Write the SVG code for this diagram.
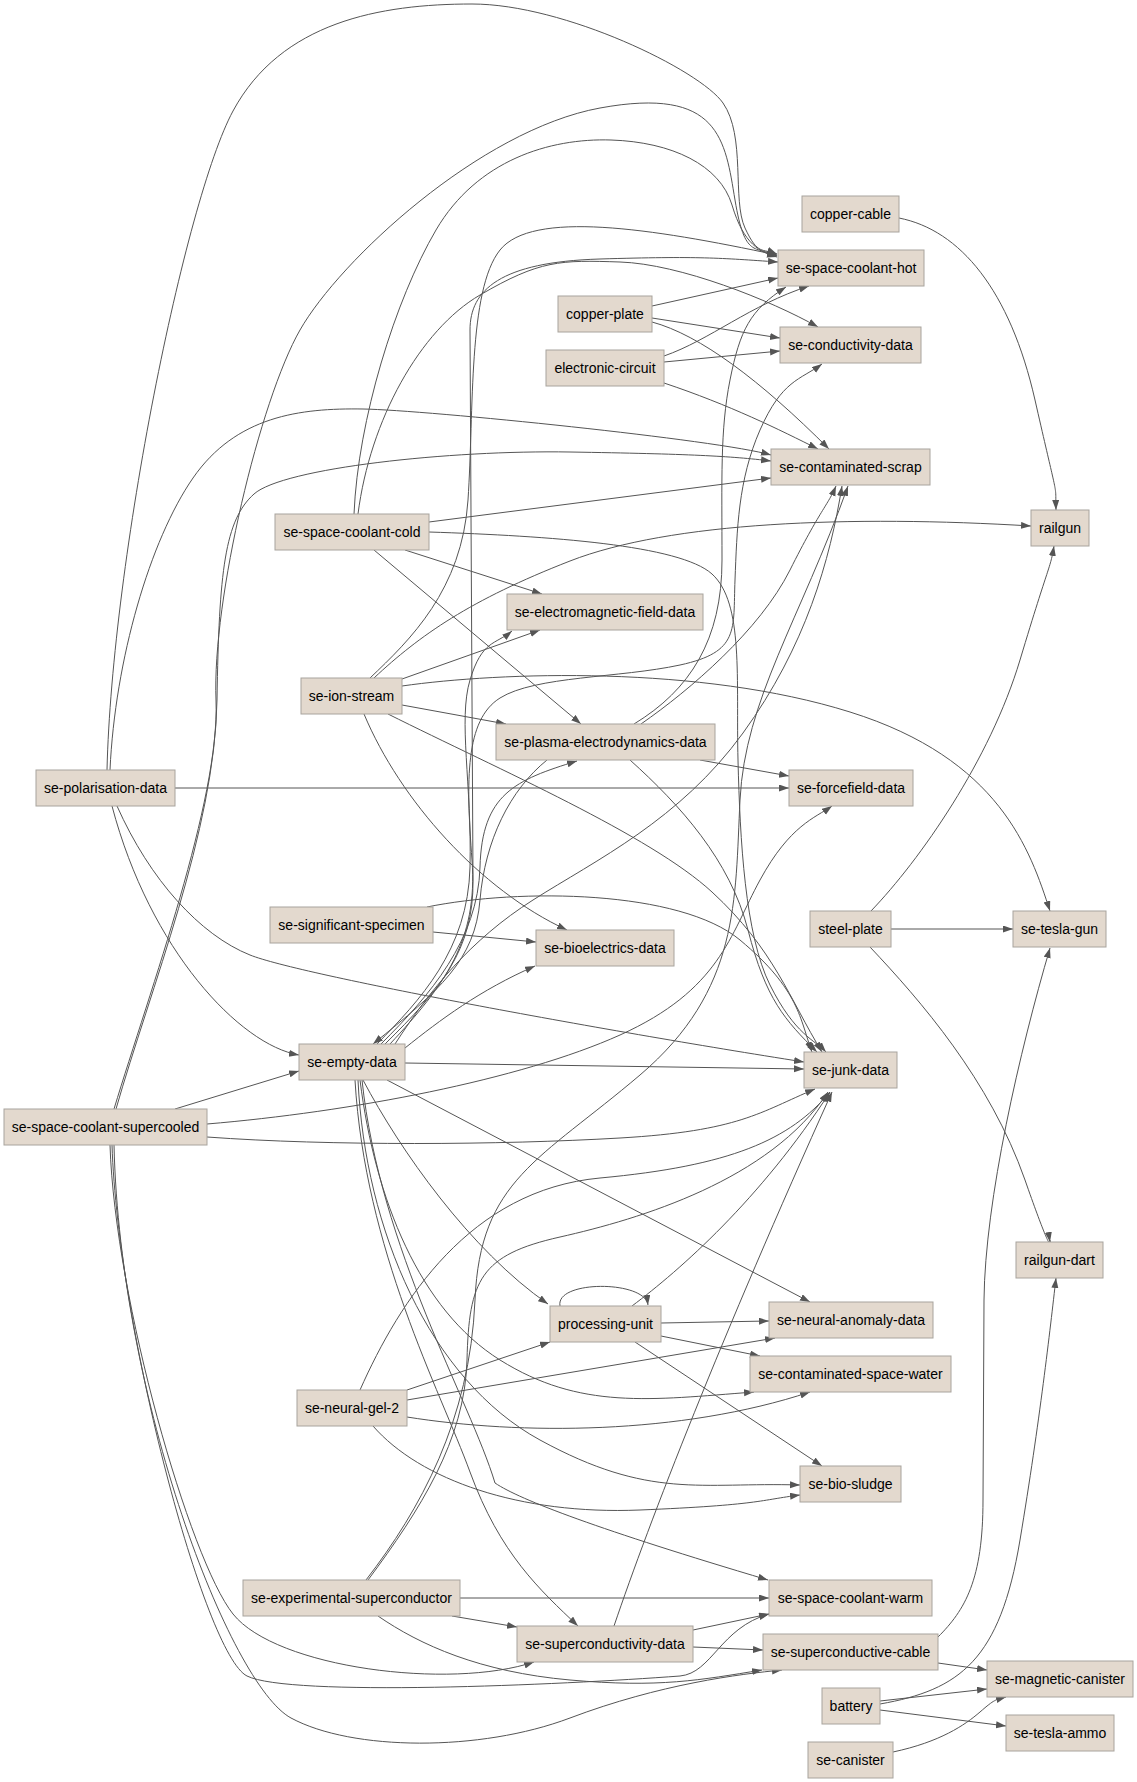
<svg xmlns="http://www.w3.org/2000/svg" width="1137" height="1782" viewBox="0 0 1137 1782">
<defs>
<marker id="ah" markerUnits="userSpaceOnUse" markerWidth="10" markerHeight="8" refX="10" refY="3.5" orient="auto"><path d="M0,0 L10,3.5 L0,7 z" fill="#555"/></marker>
<style>
.n rect{fill:#e3d9ce;stroke:#a8a39d;stroke-width:1}
.n text{font-family:"Liberation Sans",Arial,sans-serif;font-size:14px;fill:#000;text-anchor:middle}
#edges path{fill:none;stroke:#555;stroke-width:1;marker-end:url(#ah)}
</style>
</defs>
<rect x="0" y="0" width="1137" height="1782" fill="#fff"/>
<g id="edges">
<path d="M107,770 C112,560 185,200 233,111 S380,4 472,4 S700,70 723,103 S732,200 745,228 S762,248 777,254"/>
<path d="M110,770 C115,660 150,540 193,478 S300,408 363,409 S720,440 771,455"/>
<path d="M175,788 L789,788"/>
<path d="M112,806 C150,950 240,1045 299,1055"/>
<path d="M117,806 C150,880 200,935 250,955 S600,1030 804,1062"/>
<path d="M114,1109 C150,990 220,800 216,700 S260,400 300,330 S480,130 600,108 S725,140 735,200 S755,245 777,256"/>
<path d="M116,1109 C150,990 215,830 217,700 S225,520 254,494 S450,450 570,452 S730,456 771,461"/>
<path d="M175,1109 L299,1071"/>
<path d="M207,1124 C350,1112 520,1080 620,1035 S730,935 760,880 S815,818 832,806"/>
<path d="M207,1137 C330,1146 500,1145 620,1138 S760,1112 815,1089"/>
<path d="M110,1145 C115,1300 190,1560 233,1614 S450,1690 534,1662"/>
<path d="M112,1145 C118,1330 205,1655 247,1676 S560,1685 680,1676 C712,1673 720,1628 769,1614"/>
<path d="M114,1145 C120,1400 230,1685 291,1718 S480,1752 570,1718 S740,1674 782,1670"/>
<path d="M354,514 C358,420 395,300 436,230 S550,138 611,140 S720,165 732,205 S760,252 777,257"/>
<path d="M358,514 C370,420 420,330 480,295 S560,260 620,262 S770,300 818,327"/>
<path d="M429,522 L771,478"/>
<path d="M405,550 L542,594"/>
<path d="M374,550 L581,724"/>
<path d="M429,532 C550,536 680,545 712,574 S736,680 738,760 S745,935 770,985 S815,1040 826,1052"/>
<path d="M370,678 C410,640 462,590 468,500 S468,290 500,250 S650,228 777,255"/>
<path d="M374,678 C420,635 470,600 570,561 S850,515 1031,526"/>
<path d="M402,679 L540,630"/>
<path d="M402,686 C500,672 700,665 850,712 S1030,850 1050,911"/>
<path d="M402,705 L506,724"/>
<path d="M364,714 C400,800 480,890 567,930"/>
<path d="M388,714 C500,770 650,835 712,892 S790,1000 822,1052"/>
<path d="M899,218 C960,230 1010,290 1035,400 S1055,480 1056,510"/>
<path d="M652,306 L778,278"/>
<path d="M652,318 L780,338"/>
<path d="M652,322 C700,335 760,380 829,449"/>
<path d="M664,356 C710,340 750,305 809,286"/>
<path d="M664,362 L780,351"/>
<path d="M664,383 C730,405 780,430 818,449"/>
<path d="M700,760 L789,776"/>
<path d="M641,724 C690,690 760,630 790,570 S828,505 836,486"/>
<path d="M634,724 C690,690 722,640 722,560 S720,430 730,380 S750,310 786,287"/>
<path d="M630,760 C680,805 730,860 748,930 S785,1020 817,1052"/>
<path d="M547,760 C510,790 485,840 480,900 S440,990 373,1044"/>
<path d="M433,932 L536,942"/>
<path d="M427,907 C520,888 680,890 740,940 S800,1020 812,1052"/>
<path d="M405,1063 L804,1069"/>
<path d="M377,1044 C420,1000 468,950 470,867 S458,720 470,680 S495,645 512,631"/>
<path d="M381,1044 C430,995 478,940 480,867 S515,780 577,761"/>
<path d="M405,1048 C440,1020 480,990 535,966"/>
<path d="M385,1044 C440,990 474,950 473,880 L470,330 C470,290 500,262 600,259 S720,258 778,262"/>
<path d="M390,1044 C445,985 478,940 472,860 S465,720 500,698 S620,678 680,665 S733,630 735,580 S738,480 760,430 S800,380 822,364"/>
<path d="M395,1044 C430,990 470,940 533,900 S680,820 743,733 S830,560 842,486"/>
<path d="M387,1080 L810,1302"/>
<path d="M363,1080 C400,1150 470,1250 548,1304"/>
<path d="M360,1080 C375,1200 420,1310 500,1360 S650,1400 754,1392"/>
<path d="M358,1080 C365,1230 430,1380 540,1440 S700,1482 800,1485"/>
<path d="M362,1080 C380,1250 470,1400 495,1483 C520,1500 600,1530 768,1580"/>
<path d="M355,1080 C365,1250 440,1390 470,1472 S540,1590 578,1626"/>
<path d="M407,1390 L550,1342"/>
<path d="M407,1400 L775,1338"/>
<path d="M407,1417 C520,1435 680,1435 810,1392"/>
<path d="M373,1426 C420,1480 520,1515 640,1510 S760,1500 800,1495"/>
<path d="M360,1390 C400,1300 470,1190 600,1178 S790,1140 830,1092"/>
<path d="M560,1306 C555,1280 645,1280 648,1305"/>
<path d="M632,1306 C680,1270 760,1200 830,1092"/>
<path d="M661,1323 L769,1321"/>
<path d="M661,1336 L760,1356"/>
<path d="M635,1342 L822,1466"/>
<path d="M460,1598 L769,1598"/>
<path d="M452,1616 L517,1627"/>
<path d="M368,1580 C420,1510 465,1440 467,1360 S480,1255 560,1237 S770,1180 828,1092"/>
<path d="M366,1580 C420,1510 470,1420 475,1300 S540,1160 640,1075 S735,900 740,800 S800,620 848,486"/>
<path d="M378,1616 C420,1645 480,1672 570,1680 S700,1680 762,1670"/>
<path d="M693,1630 L769,1614"/>
<path d="M693,1647 L763,1650"/>
<path d="M614,1626 C650,1520 720,1340 832,1092"/>
<path d="M938,1663 L987,1670"/>
<path d="M938,1637 C965,1610 983,1580 983,1500 L984,1300 C985,1200 1020,1050 1050,948"/>
<path d="M880,1701 L987,1689"/>
<path d="M880,1710 L1006,1726"/>
<path d="M880,1704 C960,1690 1000,1660 1020,1540 S1050,1330 1056,1278"/>
<path d="M893,1752 C940,1742 965,1725 980,1712 S995,1700 1006,1697"/>
<path d="M891,929 L1013,929"/>
<path d="M871,911 C920,860 990,760 1020,660 S1050,570 1054,546"/>
<path d="M870,947 C920,1000 990,1080 1025,1180 S1048,1230 1050,1242"/>
</g>
<g id="n-copper-cable" class="n"><rect x="802" y="196" width="97" height="36"/><text x="850.5" y="219">copper-cable</text></g>
<g id="n-se-space-coolant-hot" class="n"><rect x="778" y="250" width="146" height="36"/><text x="851" y="273">se-space-coolant-hot</text></g>
<g id="n-copper-plate" class="n"><rect x="558" y="296" width="94" height="36"/><text x="605" y="319">copper-plate</text></g>
<g id="n-se-conductivity-data" class="n"><rect x="780" y="327" width="141" height="36"/><text x="850.5" y="350">se-conductivity-data</text></g>
<g id="n-electronic-circuit" class="n"><rect x="546" y="350" width="118" height="36"/><text x="605" y="373">electronic-circuit</text></g>
<g id="n-se-contaminated-scrap" class="n"><rect x="771" y="449" width="159" height="36"/><text x="850.5" y="472">se-contaminated-scrap</text></g>
<g id="n-se-space-coolant-cold" class="n"><rect x="275" y="514" width="154" height="36"/><text x="352" y="537">se-space-coolant-cold</text></g>
<g id="n-railgun" class="n"><rect x="1031" y="510" width="58" height="36"/><text x="1060" y="533">railgun</text></g>
<g id="n-se-electromagnetic-field-data" class="n"><rect x="507" y="594" width="196" height="36"/><text x="605" y="617">se-electromagnetic-field-data</text></g>
<g id="n-se-ion-stream" class="n"><rect x="301" y="678" width="101" height="36"/><text x="351.5" y="701">se-ion-stream</text></g>
<g id="n-se-plasma-electrodynamics-data" class="n"><rect x="496" y="724" width="219" height="36"/><text x="605.5" y="747">se-plasma-electrodynamics-data</text></g>
<g id="n-se-polarisation-data" class="n"><rect x="36" y="770" width="139" height="36"/><text x="105.5" y="793">se-polarisation-data</text></g>
<g id="n-se-forcefield-data" class="n"><rect x="789" y="770" width="124" height="36"/><text x="851" y="793">se-forcefield-data</text></g>
<g id="n-se-significant-specimen" class="n"><rect x="270" y="907" width="163" height="36"/><text x="351.5" y="930">se-significant-specimen</text></g>
<g id="n-steel-plate" class="n"><rect x="810" y="911" width="81" height="36"/><text x="850.5" y="934">steel-plate</text></g>
<g id="n-se-tesla-gun" class="n"><rect x="1013" y="911" width="93" height="36"/><text x="1059.5" y="934">se-tesla-gun</text></g>
<g id="n-se-bioelectrics-data" class="n"><rect x="536" y="930" width="138" height="36"/><text x="605" y="953">se-bioelectrics-data</text></g>
<g id="n-se-empty-data" class="n"><rect x="299" y="1044" width="106" height="36"/><text x="352" y="1067">se-empty-data</text></g>
<g id="n-se-junk-data" class="n"><rect x="804" y="1052" width="93" height="36"/><text x="850.5" y="1075">se-junk-data</text></g>
<g id="n-se-space-coolant-supercooled" class="n"><rect x="4" y="1109" width="203" height="36"/><text x="105.5" y="1132">se-space-coolant-supercooled</text></g>
<g id="n-railgun-dart" class="n"><rect x="1016" y="1242" width="87" height="36"/><text x="1059.5" y="1265">railgun-dart</text></g>
<g id="n-processing-unit" class="n"><rect x="550" y="1306" width="111" height="36"/><text x="605.5" y="1329">processing-unit</text></g>
<g id="n-se-neural-anomaly-data" class="n"><rect x="769" y="1302" width="164" height="36"/><text x="851" y="1325">se-neural-anomaly-data</text></g>
<g id="n-se-contaminated-space-water" class="n"><rect x="750" y="1356" width="201" height="36"/><text x="850.5" y="1379">se-contaminated-space-water</text></g>
<g id="n-se-neural-gel-2" class="n"><rect x="297" y="1390" width="110" height="36"/><text x="352" y="1413">se-neural-gel-2</text></g>
<g id="n-se-bio-sludge" class="n"><rect x="800" y="1466" width="101" height="36"/><text x="850.5" y="1489">se-bio-sludge</text></g>
<g id="n-se-experimental-superconductor" class="n"><rect x="243" y="1580" width="217" height="36"/><text x="351.5" y="1603">se-experimental-superconductor</text></g>
<g id="n-se-space-coolant-warm" class="n"><rect x="769" y="1580" width="163" height="36"/><text x="850.5" y="1603">se-space-coolant-warm</text></g>
<g id="n-se-superconductivity-data" class="n"><rect x="517" y="1626" width="176" height="36"/><text x="605" y="1649">se-superconductivity-data</text></g>
<g id="n-se-superconductive-cable" class="n"><rect x="763" y="1634" width="175" height="36"/><text x="850.5" y="1657">se-superconductive-cable</text></g>
<g id="n-se-magnetic-canister" class="n"><rect x="987" y="1661" width="146" height="36"/><text x="1060" y="1684">se-magnetic-canister</text></g>
<g id="n-battery" class="n"><rect x="822" y="1688" width="58" height="36"/><text x="851" y="1711">battery</text></g>
<g id="n-se-tesla-ammo" class="n"><rect x="1006" y="1715" width="108" height="36"/><text x="1060" y="1738">se-tesla-ammo</text></g>
<g id="n-se-canister" class="n"><rect x="808" y="1742" width="85" height="36"/><text x="850.5" y="1765">se-canister</text></g>
</svg>
